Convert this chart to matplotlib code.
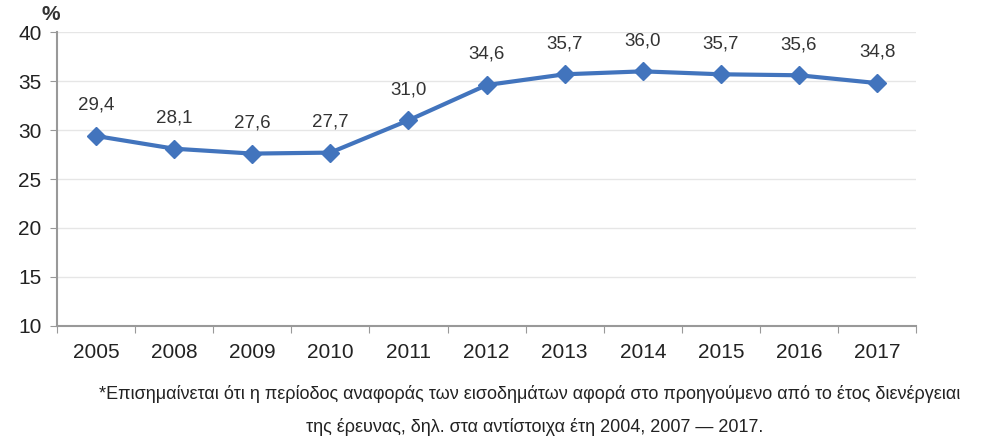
import matplotlib
matplotlib.use("Agg")
import matplotlib.pyplot as plt

# share of population (%) per survey year
years = ["2005", "2008", "2009", "2010", "2011", "2012", "2013", "2014", "2015", "2016", "2017"]
values = [29.4, 28.1, 27.6, 27.7, 31.0, 34.6, 35.7, 36.0, 35.7, 35.6, 34.8]

note1 = "*Επισημαίνεται ότι η περίοδος αναφοράς των εισοδημάτων αφορά στο προηγούμενο από το έτος διενέργειαι"
note2 = "της έρευνας, δηλ. στα αντίστοιχα έτη 2004, 2007 \u2014 2017."

plt.rcParams['font.family'] = ['Liberation Sans', 'DejaVu Sans']

fig = plt.figure(figsize=(9.81, 4.41), dpi=100)
ax = fig.add_axes([0.058, 0.261, 0.876, 0.666])

x = list(range(len(years)))
ax.plot(x, values, color="#4274bd", lw=3, marker="D", ms=9, zorder=3)
for xi, v in zip(x, values):
    ax.annotate(f"{v:.1f}".replace(".", ","), (xi, v), xytext=(0, 16),
                textcoords="offset points", ha="center", va="bottom",
                fontsize=13.5, color="#333333")

ax.set_ylim(10, 40)
ax.set_yticks(range(10, 41, 5))
ax.set_xlim(-0.5, len(years) - 0.5)
ax.set_xticks([i - 0.5 for i in range(len(years) + 1)])
ax.set_xticklabels([])
ax.set_xticks(x, minor=True)
ax.set_xticklabels(years, minor=True)
ax.tick_params(axis="x", which="minor", length=0, pad=12, labelsize=15, labelcolor="#222222")
ax.tick_params(axis="x", which="major", length=5, color="#999999")
ax.tick_params(axis="y", length=5, color="#999999", labelsize=15, labelcolor="#222222", pad=6)

ax.grid(axis="y", color="#e6e6e6", lw=1)
ax.set_axisbelow(True)
for s in ["top", "right"]:
    ax.spines[s].set_visible(False)
for s in ["left", "bottom"]:
    ax.spines[s].set_color("#999999")
    ax.spines[s].set_linewidth(1.5)

fig.text(0.042, 0.955, "%", fontsize=15, fontweight="bold", color="#333333")

fig.text(0.54, 0.095, note1, ha="center", fontsize=13, color="#222222")
fig.text(0.545, 0.02, note2, ha="center", fontsize=13, color="#222222")

fig.savefig("out.png", dpi=100)
